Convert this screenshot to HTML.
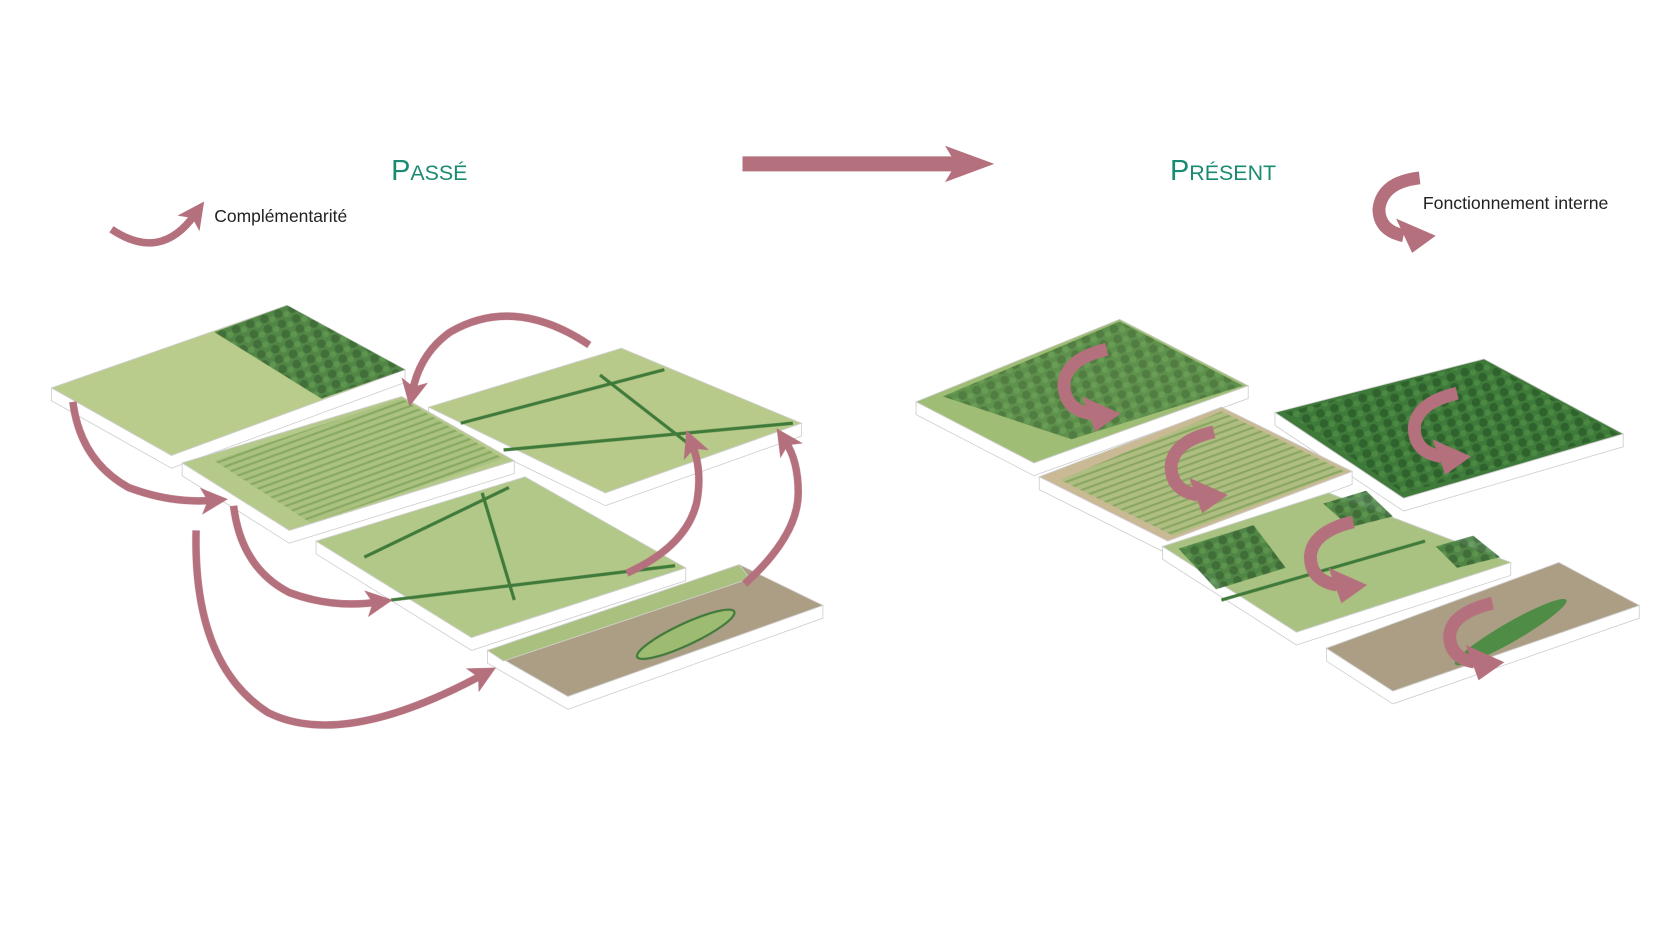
<!DOCTYPE html>
<html><head><meta charset="utf-8"><style>
html,body{margin:0;padding:0;background:#fff;width:1680px;height:945px;overflow:hidden}
svg{display:block}
</style></head><body>
<svg width="1680" height="945" viewBox="0 0 1568 882" xmlns="http://www.w3.org/2000/svg">
<defs>
<pattern id="rows" width="6" height="6" patternUnits="userSpaceOnUse" patternTransform="rotate(-20)">
<rect width="6" height="6" fill="#a9c07e"/><rect width="6" height="2" fill="#7fa35a"/></pattern>
<pattern id="forest" width="14" height="10" patternUnits="userSpaceOnUse" patternTransform="rotate(-20)">
<rect width="14" height="10" fill="#3f7a3a"/><circle cx="4" cy="4" r="4" fill="#2d5e2b"/><circle cx="11" cy="7" r="3" fill="#4f8c45"/></pattern>
<marker id="ah" markerWidth="3.6" markerHeight="3.6" refX="1.5" refY="1.8" orient="auto" markerUnits="strokeWidth">
<path d="M0,0 L3.6,1.8 L0,3.6 L0.9,1.8 Z" fill="#b5707d"/></marker>
</defs>

<g font-family="Liberation Sans, sans-serif">
<text x="365" y="168" fill="#1b8a72" font-size="27">P<tspan font-size="20">ASSÉ</tspan></text>
<text x="1092" y="168" fill="#1b8a72" font-size="27">P<tspan font-size="20">RÉSENT</tspan></text>
<text x="200" y="207" fill="#222" font-size="16.3">Complémentarité</text>
<text x="1328" y="195" fill="#222" font-size="16.5">Fonctionnement interne</text>
</g>

<path d="M693,146 L888,146 L882,136 L928,153 L882,170 L888,160 L693,160 Z" fill="#b5707d"/>
<path d="M104,214 Q150,245 182,200" stroke="#b5707d" stroke-width="7" fill="none" marker-end="url(#ah)"/>
<path d="M1325,166 Q1290,170 1287,195 Q1287,215 1310,220" stroke="#b5707d" stroke-width="12" fill="none"/>
<path d="M1303,204 L1340,220 L1318,236 Z" fill="#b5707d"/>

<g stroke="#cfcfcf" stroke-width="0.8">
<path d="M48,362 L160,425 L378,345 L378,357 L160,437 L48,374 Z" fill="#fff"/>
<path d="M48,362 L268,285 L378,345 L160,425 Z" fill="#b9cc8c"/>
<path d="M400,380 L565,460 L748,395 L748,407 L565,472 L400,392 Z" fill="#fff"/>
<path d="M400,380 L580,325 L748,395 L565,460 Z" fill="#b7ca8a"/>
<path d="M170,432 L270,495 L480,430 L480,442 L270,507 L170,444 Z" fill="#fff"/>
<path d="M170,432 L375,370 L480,430 L270,495 Z" fill="#b5c98a"/>
<path d="M295,505 L440,595 L640,530 L640,542 L440,607 L295,517 Z" fill="#fff"/>
<path d="M295,505 L490,445 L640,530 L440,595 Z" fill="#b2c888"/>
<path d="M455,607 L530,650 L768,565 L768,577 L530,662 L455,619 Z" fill="#fff"/>
<path d="M455,607 L690,527 L768,565 L530,650 Z" fill="#ab9e84"/>
<path d="M455,607 L690,527 L700,540 L470,617 Z" fill="#a9c07e"/>
<path d="M855,375 L965,432 L1165,360 L1165,372 L965,444 L855,387 Z" fill="#fff"/>
<path d="M855,375 L1045,298 L1165,360 L965,432 Z" fill="#9fbd74"/>
<path d="M1190,385 L1310,465 L1515,405 L1515,417 L1310,477 L1190,397 Z" fill="#fff"/>
<path d="M1190,385 L1385,335 L1515,405 L1310,465 Z" fill="#3f7a3a"/>
<path d="M970,445 L1090,505 L1262,440 L1262,452 L1090,517 L970,457 Z" fill="#fff"/>
<path d="M970,445 L1140,380 L1262,440 L1090,505 Z" fill="#c9b994"/>
<path d="M1085,510 L1210,590 L1410,525 L1410,537 L1210,602 L1085,522 Z" fill="#fff"/>
<path d="M1085,510 L1240,460 L1410,525 L1210,590 Z" fill="#a9c282"/>
<path d="M1238,605 L1300,645 L1530,565 L1530,577 L1300,657 L1238,617 Z" fill="#fff"/>
<path d="M1238,605 L1455,525 L1530,565 L1300,645 Z" fill="#ab9e84"/>
</g>

<g opacity="0.85">
<path d="M200,310 L268,285 L378,345 L300,372 Z" fill="url(#forest)"/>
<path d="M200,430 L375,372 L470,428 L290,488 Z" fill="url(#rows)"/>
<path d="M880,370 L1045,300 L1160,360 L1000,410 Z" fill="url(#forest)" opacity="0.8"/>
<path d="M990,448 L1140,384 L1255,440 L1095,500 Z" fill="url(#rows)"/>
<path d="M1200,385 L1385,337 L1510,405 L1310,460 Z" fill="url(#forest)"/>
<path d="M1100,512 L1170,490 L1200,530 L1135,550 Z" fill="url(#forest)"/>
<path d="M1235,470 L1275,458 L1300,482 L1260,492 Z" fill="url(#forest)"/>
<path d="M1340,510 L1375,500 L1400,520 L1360,530 Z" fill="url(#forest)"/>
</g>
<g stroke="#3f7a3a" stroke-width="3" fill="none">
<path d="M430,395 L620,345 M470,420 L740,395 M560,350 L650,420"/>
<path d="M340,520 L475,455 M365,560 L630,528 M450,460 L480,560"/>
<path d="M1140,560 L1330,505"/>
</g>
<ellipse cx="640" cy="592" rx="50" ry="10" transform="rotate(-25 640 592)" fill="#9ebb72" stroke="#3f7a3a" stroke-width="2"/>
<ellipse cx="1410" cy="590" rx="60" ry="9" transform="rotate(-30 1410 590)" fill="#4f8c45"/>

<g stroke="#b5707d" stroke-width="7" fill="none">
<path d="M550,322 Q480,275 420,310 Q392,330 385,365" marker-end="url(#ah)"/>
<path d="M68,375 Q75,430 120,455 Q160,470 198,467" marker-end="url(#ah)"/>
<path d="M218,472 Q225,530 270,553 Q310,568 352,562" marker-end="url(#ah)"/>
<path d="M183,495 Q180,620 250,665 Q320,700 450,630" marker-end="url(#ah)"/>
<path d="M585,535 Q640,510 650,470 Q656,440 646,415" marker-end="url(#ah)"/>
<path d="M695,545 Q745,500 745,460 Q745,430 733,412" marker-end="url(#ah)"/>
</g>

<g fill="none" stroke="#b5707d" stroke-width="12">
<path d="M1033,326 Q995,335 993,358 Q993,382 1018,386"/>
<path d="M1133,403 Q1095,412 1093,435 Q1093,458 1118,462"/>
<path d="M1360,367 Q1322,376 1320,399 Q1320,422 1345,426"/>
<path d="M1263,487 Q1225,496 1223,519 Q1223,542 1248,546"/>
<path d="M1393,563 Q1355,572 1353,593 Q1353,614 1376,618"/>
</g>
<g fill="#b5707d">
<path d="M1010,370 L1046,386 L1022,403 Z"/>
<path d="M1110,446 L1146,462 L1122,479 Z"/>
<path d="M1337,410 L1373,426 L1349,443 Z"/>
<path d="M1240,530 L1276,546 L1252,563 Z"/>
<path d="M1368,602 L1404,618 L1380,635 Z"/>
</g>
</svg>
</body></html>
